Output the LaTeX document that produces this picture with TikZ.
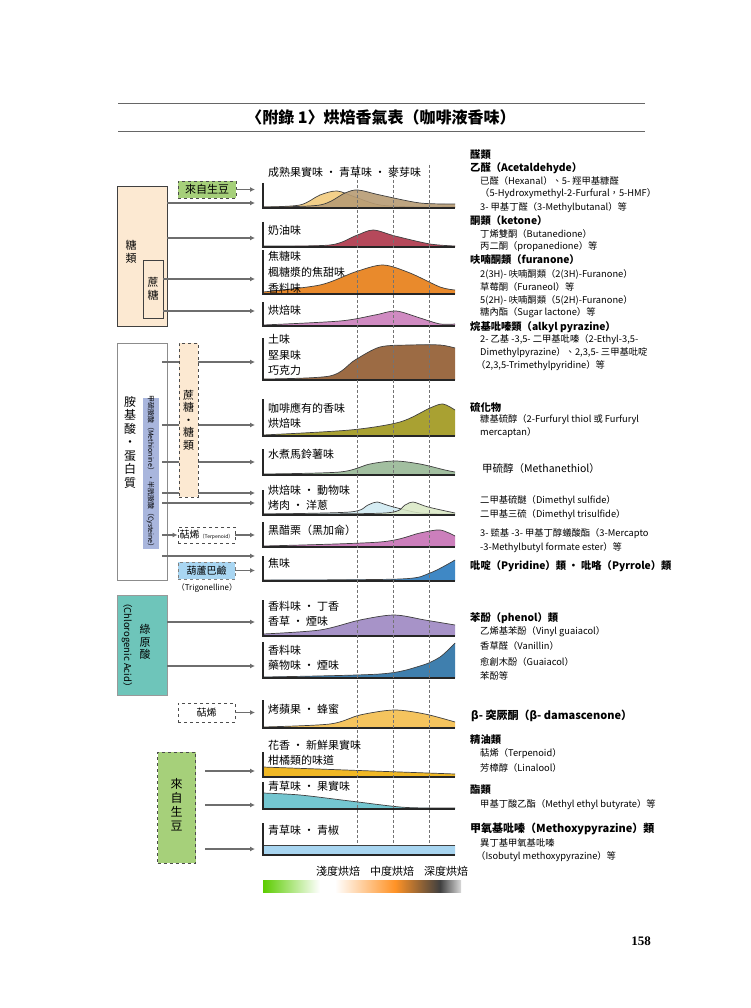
\documentclass[tikz,border=0pt]{standalone}
\usepackage{fontspec}
\setmainfont{Liberation Sans}
\newfontfamily\cjk{Noto Sans CJK TC}
\newfontfamily\serifnum{Liberation Serif}
\definecolor{arrg}{HTML}{6E6E6E}
\definecolor{peach}{HTML}{FCE9D2}
\definecolor{gbean}{HTML}{A6D07A}
\definecolor{methi}{HTML}{A9B6DD}
\definecolor{trig}{HTML}{A9D6F2}
\definecolor{chloro}{HTML}{6EC5BA}
\definecolor{cA}{HTML}{F3D08A}
\definecolor{cB}{HTML}{B89C74}
\definecolor{cC}{HTML}{B5495B}
\definecolor{cD}{HTML}{E98A2C}
\definecolor{cE}{HTML}{D08BC2}
\definecolor{cF}{HTML}{9C6B44}
\definecolor{cG}{HTML}{A9A132}
\definecolor{cH}{HTML}{A2BFA0}
\definecolor{cI}{HTML}{D5ECF3}
\definecolor{cJ}{HTML}{D9E8C4}
\definecolor{cK}{HTML}{CC7FBC}
\definecolor{cL}{HTML}{3F88C5}
\definecolor{cM}{HTML}{A793C8}
\definecolor{cN}{HTML}{3F7FAE}
\definecolor{cO}{HTML}{F5C45E}
\definecolor{cP}{HTML}{F0B825}
\definecolor{cQ}{HTML}{74C6D0}
\definecolor{cR}{HTML}{A8D5F0}
\usetikzlibrary{arrows.meta}
\tikzset{
  arr/.style={draw=arrg,line width=1.2pt,-{Latex[length=5pt,width=5pt]}},
  axisl/.style={draw=black!85,line width=1.3pt},
  curve/.style={draw=black!75,line width=0.7pt},
  lbl/.style={anchor=west,inner sep=0pt,font=\cjk\fontsize{11}{12}\selectfont},
  rt/.style={anchor=west,inner sep=0pt,font=\cjk\fontsize{9.3}{11}\selectfont},
  rb/.style={anchor=west,inner sep=0pt,font=\cjk\bfseries\fontsize{10.3}{12}\selectfont},
  dbox/.style={draw=black!70,dashed,line width=0.9pt},
  sbox/.style={draw=black!75,line width=0.9pt},
  vt/.style={font=\cjk\fontsize{11}{12.5}\selectfont,align=center,inner sep=0pt},
}
\newcommand\hump[3]{\fill[#1] (263,#2) -- plot[smooth] coordinates {#3} -- (455,#2) -- cycle; \draw[curve] plot[smooth] coordinates {#3};}
\newcommand\axesat[2]{\draw[axisl] (263,#1) -- (263,#2) -- (455,#2);}
\begin{document}
\begin{tikzpicture}[x=1pt,y=-1pt]
\useasboundingbox (0,0) rectangle (750,1008);
\fill[white] (0,0) rectangle (750,1008);
% title
\draw[black!60,line width=0.8pt] (118,103) -- (645,103);
\draw[black!60,line width=0.8pt] (118,131) -- (645,131);
\node[font=\cjk\bfseries\fontsize{16}{17}\selectfont] (title) at (381,117) {〈附錄 1〉烘焙香氣表（咖啡液香味）};
% curves
\hump{cA}{208}{(263,207)(300,205)(320,195)(337,191)(355,197)(380,205)(420,207)(455,207)}
\hump{cB,opacity=0.9}{208}{(263,207)(320,205)(345,193)(358,190)(380,195)(420,203)(455,204)}
\axesat{183}{208}
\hump{cC}{247}{(263,246)(330,245)(355,236)(373,230)(395,236)(430,244)(455,246)}
\axesat{222}{247}
\hump{cD}{294}{(263,292)(320,285)(355,272)(383,265)(410,273)(440,287)(455,290)}
\axesat{250}{294}
\hump{cE}{326}{(263,325)(340,321)(375,315)(396,311)(420,318)(440,324)(455,324)}
\axesat{302}{326}
\hump{cF}{380}{(263,379)(330,376)(355,360)(380,347)(410,345)(440,345)(455,348)}
\axesat{338}{380}
\hump{cG}{436}{(263,435)(350,430)(400,422)(430,408)(443,404)(455,410)}
\axesat{399}{436}
\hump{cH}{475}{(263,474)(340,472)(370,464)(395,461)(420,464)(445,470)(455,472)}
\axesat{449}{475}
\hump{cI}{515}{(263,514)(350,512)(368,505)(377,502)(390,506)(420,513)(455,514)}
\hump{cJ,opacity=0.85}{515}{(263,514)(385,513)(405,505)(413,502)(428,507)(455,513)}
\axesat{490}{515}
\hump{cK}{547}{(263,546)(380,542)(420,533)(440,530)(455,536)}
\axesat{522}{547}
\hump{cL}{581}{(263,580)(400,579)(430,573)(455,560)}
\axesat{556}{581}
\hump{cM}{636}{(263,634)(320,630)(360,620)(394,615)(425,620)(455,625)}
\axesat{600}{636}
\hump{cN}{678}{(263,677)(380,674)(420,666)(440,657)(455,643)}
\axesat{642}{678}
\hump{cO}{728}{(263,727)(330,724)(360,715)(394,710)(425,714)(455,722)}
\axesat{700}{728}
\hump{cP}{777}{(263,767)(455,774)}
\axesat{752}{777}
\hump{cQ}{809}{(263,793)(300,795)(350,801)(400,807)(430,808)(455,808)}
\axesat{782}{809}
\hump{cR}{855}{(263,845)(455,845)}
\axesat{823}{855}
% dashed roast lines
\foreach \x in {357,393,429} \draw[black!55,densely dashed,line width=0.6pt] (\x,165) -- (\x,845);
% chart labels
\node[lbl] (l1) at (268,172) {成熟果實味 · 青草味 · 麥芽味};
\node[lbl] (l2) at (268,230) {奶油味};
\node[lbl] (l3a) at (268,256) {焦糖味};
\node[lbl] (l3b) at (268,272) {楓糖漿的焦甜味};
\node[lbl] (l3c) at (268,288) {香料味};
\node[lbl] (l4) at (268,310) {烘焙味};
\node[lbl] (l5a) at (268,339) {土味};
\node[lbl] (l5b) at (268,355) {堅果味};
\node[lbl] (l5c) at (268,370) {巧克力};
\node[lbl] (l6a) at (268,408) {咖啡應有的香味};
\node[lbl] (l6b) at (268,423) {烘焙味};
\node[lbl] (l7) at (268,454) {水煮馬鈴薯味};
\node[lbl] (l8a) at (268,490) {烘焙味 · 動物味};
\node[lbl] (l8b) at (268,505) {烤肉 · 洋蔥};
\node[lbl] (l9) at (268,530) {黑醋栗（黑加侖）};
\node[lbl] (l10) at (268,563) {焦味};
\node[lbl] (l11a) at (268,606) {香料味 · 丁香};
\node[lbl] (l11b) at (268,621) {香草 · 煙味};
\node[lbl] (l12a) at (268,650) {香料味};
\node[lbl] (l12b) at (268,665) {藥物味 · 煙味};
\node[lbl] (l13) at (268,709) {烤蘋果 · 蜂蜜};
\node[lbl] (l14a) at (268,745) {花香 · 新鮮果實味};
\node[lbl] (l14b) at (268,760) {柑橘類的味道};
\node[lbl] (l15) at (268,786) {青草味 · 果實味};
\node[lbl] (l16) at (268,830) {青草味 · 青椒};
% roast scale
\node[lbl,anchor=center] (r1) at (338,871) {淺度烘焙};
\node[lbl,anchor=center] (r2) at (392,871) {中度烘焙};
\node[lbl,anchor=center] (r3) at (446,871) {深度烘焙};
\shade[left color=green!55!yellow!80!black,right color=white] (263,880) rectangle (320,892);
\fill[white] (320,880) rectangle (335,892);
\shade[left color=white,right color=orange!85] (335,880) rectangle (395,892);
\shade[left color=orange!85,right color=black!75] (395,880) rectangle (440,892);
\shade[left color=black!75,right color=black!15] (440,880) rectangle (461,892);
% left: sugars
\node[sbox,fill=peach,minimum width=50pt,minimum height=140pt,inner sep=0pt] (sugar) at (142,256) {};
\node[vt] (sugart) at (131,252) {糖\\類};
\node[sbox,fill=peach,minimum width=20pt,minimum height=58pt,inner sep=0pt] (sucrose) at (153,289) {};
\node[vt] at (153,289) {蔗\\糖};
\node[dbox,fill=gbean,minimum width=58pt,minimum height=17pt,inner sep=0pt,font=\cjk\fontsize{11}{12}\selectfont] (gb1) at (207,189.5) {來自生豆};
\draw[arr] (gb1.east) -- (255,189.5);
\draw[arr] (sugar.east|-0,203) -- (255,203);
\draw[arr] (sugar.east|-0,238) -- (255,238);
\draw[arr] (sucrose.east|-0,279) -- (255,279);
\draw[arr] (sucrose.east|-0,311) -- (255,311);
% amino acids
\node[draw=black!45,line width=0.9pt,fill=white,minimum width=50pt,minimum height=237pt,inner sep=0pt] (amino) at (142,461.5) {};
\node[vt,font=\cjk\fontsize{12}{13.5}\selectfont] at (130,442) {胺\\基\\酸\\・\\蛋\\白\\質};
\node[draw=methi,fill=methi,minimum width=15pt,minimum height=150pt,inner sep=0pt] (meth) at (150.5,473) {};
\node[rotate=-90,font=\cjk\fontsize{7}{8}\selectfont,inner sep=0pt] at (150.5,473) {甲硫胺酸（Methionine）・半胱胺酸（Cysteine）};
\foreach \yy in {362,425,462,493,503,556} \draw[arr] (162,\yy) -- (255,\yy);
\node[dbox,fill=peach,minimum width=19pt,minimum height=154pt,inner sep=0pt] (suc2) at (188.5,420) {};
\node[vt] at (188.5,420) {蔗\\糖\\・\\糖\\類};
\node[dbox,fill=white,minimum width=57pt,minimum height=16pt,inner sep=0pt] (terp1) at (206.5,535) {\cjk\fontsize{10}{11}\selectfont 萜烯\fontsize{5}{6}\selectfont（Terpenoid）};
\draw[arr] (162,535) -- (terp1.west);
\draw[arr] (terp1.east) -- (255,535);
\node[dbox,draw=black!50,fill=trig,minimum width=57pt,minimum height=17pt,inner sep=0pt,font=\cjk\fontsize{10}{11}\selectfont] (trig) at (206.5,570.5) {葫蘆巴鹼};
\draw[arr] (trig.east) -- (255,570.5);
\node[font=\cjk\fontsize{8}{9}\selectfont,inner sep=0pt] (trigl) at (207,588) {（Trigonelline）};
% chlorogenic
\node[draw=black!40,fill=chloro,minimum width=50pt,minimum height=100pt,inner sep=0pt] (chlo) at (142,645) {};
\node[rotate=-90,font=\cjk\fontsize{9.5}{10}\selectfont,inner sep=0pt] at (127,645) {（Chlorogenic Acid）};
\node[vt] at (145,642) {綠\\原\\酸};
\draw[arr] (chlo.east|-0,622) -- (255,622);
\draw[arr] (chlo.east|-0,666) -- (255,666);
\node[dbox,fill=white,minimum width=57pt,minimum height=19pt,inner sep=0pt,font=\cjk\fontsize{10}{11}\selectfont] (terp2) at (206.5,712.5) {萜烯};
\draw[arr] (terp2.east) -- (255,712.5);
\node[dbox,fill=gbean,minimum width=38pt,minimum height=111pt,inner sep=0pt] (gb2) at (176.5,807.5) {};
\node[vt,font=\cjk\fontsize{12}{14}\selectfont] at (176.5,805) {來\\自\\生\\豆};
\draw[arr] (205,771) -- (255,771);
\draw[arr] (205,805) -- (255,805);
\draw[arr] (205,849) -- (255,849);
% right column
\node[rb] at (470,155) {醛類};
\node[rb] at (470,168) {乙醛（Acetaldehyde）};
\node[rt] at (480,181) {已醛（Hexanal）、5- 羥甲基糠醛};
\node[rt] at (480,194) {（5-Hydroxymethyl-2-Furfural，5-HMF）};
\node[rt] at (480,208) {3- 甲基丁醛（3-Methylbutanal）等};
\node[rb] at (470,221) {酮類（ketone）};
\node[rt] at (480,234) {丁烯雙酮（Butanedione）};
\node[rt] at (480,247) {丙二酮（propanedione）等};
\node[rb] at (470,260) {呋喃酮類（furanone）};
\node[rt] at (480,274) {2(3H)- 呋喃酮類（2(3H)-Furanone）};
\node[rt] at (480,287) {草莓酮（Furaneol）等};
\node[rt] at (480,300) {5(2H)- 呋喃酮類（5(2H)-Furanone）};
\node[rt] at (480,313) {糖內酯（Sugar lactone）等};
\node[rb] at (470,327) {烷基吡嗪類（alkyl pyrazine）};
\node[rt] at (480,340) {2- 乙基 -3,5- 二甲基吡嗪（2-Ethyl-3,5-};
\node[rt] at (480,353) {Dimethylpyrazine）、2,3,5- 三甲基吡啶};
\node[rt] at (476,366) {（2,3,5-Trimethylpyridine）等};
\node[rb] at (470,407) {硫化物};
\node[rt] at (480,420) {糠基硫醇（2-Furfuryl thiol 或 Furfuryl};
\node[rt] at (480,433) {mercaptan）};
\node[rt,font=\cjk\fontsize{10.5}{12}\selectfont] at (482,469) {甲硫醇（Methanethiol）};
\node[rt] at (480,501) {二甲基硫醚（Dimethyl sulfide）};
\node[rt] at (480,515) {二甲基三硫（Dimethyl trisulfide）};
\node[rt] at (480,534) {3- 巰基 -3- 甲基丁醇蟻酸酯（3-Mercapto};
\node[rt] at (480,548) {-3-Methylbutyl formate ester）等};
\node[rb] at (470,566) {吡啶（Pyridine）類 · 吡咯（Pyrrole）類};
\node[rb] at (470,618) {苯酚（phenol）類};
\node[rt] at (480,632) {乙烯基苯酚（Vinyl guaiacol）};
\node[rt] at (480,646) {香草醛（Vanillin）};
\node[rt] at (480,662) {愈創木酚（Guaiacol）};
\node[rt] at (480,676) {苯酚等};
\node[rb,font=\cjk\bfseries\fontsize{11}{12}\selectfont] at (471,716) {\textit{β}- 突厥酮（\textit{β}- damascenone）};
\node[rb] at (470,740) {精油類};
\node[rt] at (480,754) {萜烯（Terpenoid）};
\node[rt] at (480,768) {芳樟醇（Linalool）};
\node[rb] at (470,790) {酯類};
\node[rt] at (480,805) {甲基丁酸乙酯（Methyl ethyl butyrate）等};
\node[rb,font=\cjk\bfseries\fontsize{11}{12}\selectfont] at (470,829) {甲氧基吡嗪（Methoxypyrazine）類};
\node[rt] at (480,843) {異丁基甲氧基吡嗪};
\node[rt] at (476,857) {（Isobutyl methoxypyrazine）等};
\node[font=\serifnum\bfseries\fontsize{13}{14}\selectfont,inner sep=0pt] (page) at (641,941) {158};
\end{tikzpicture}
\end{document}
